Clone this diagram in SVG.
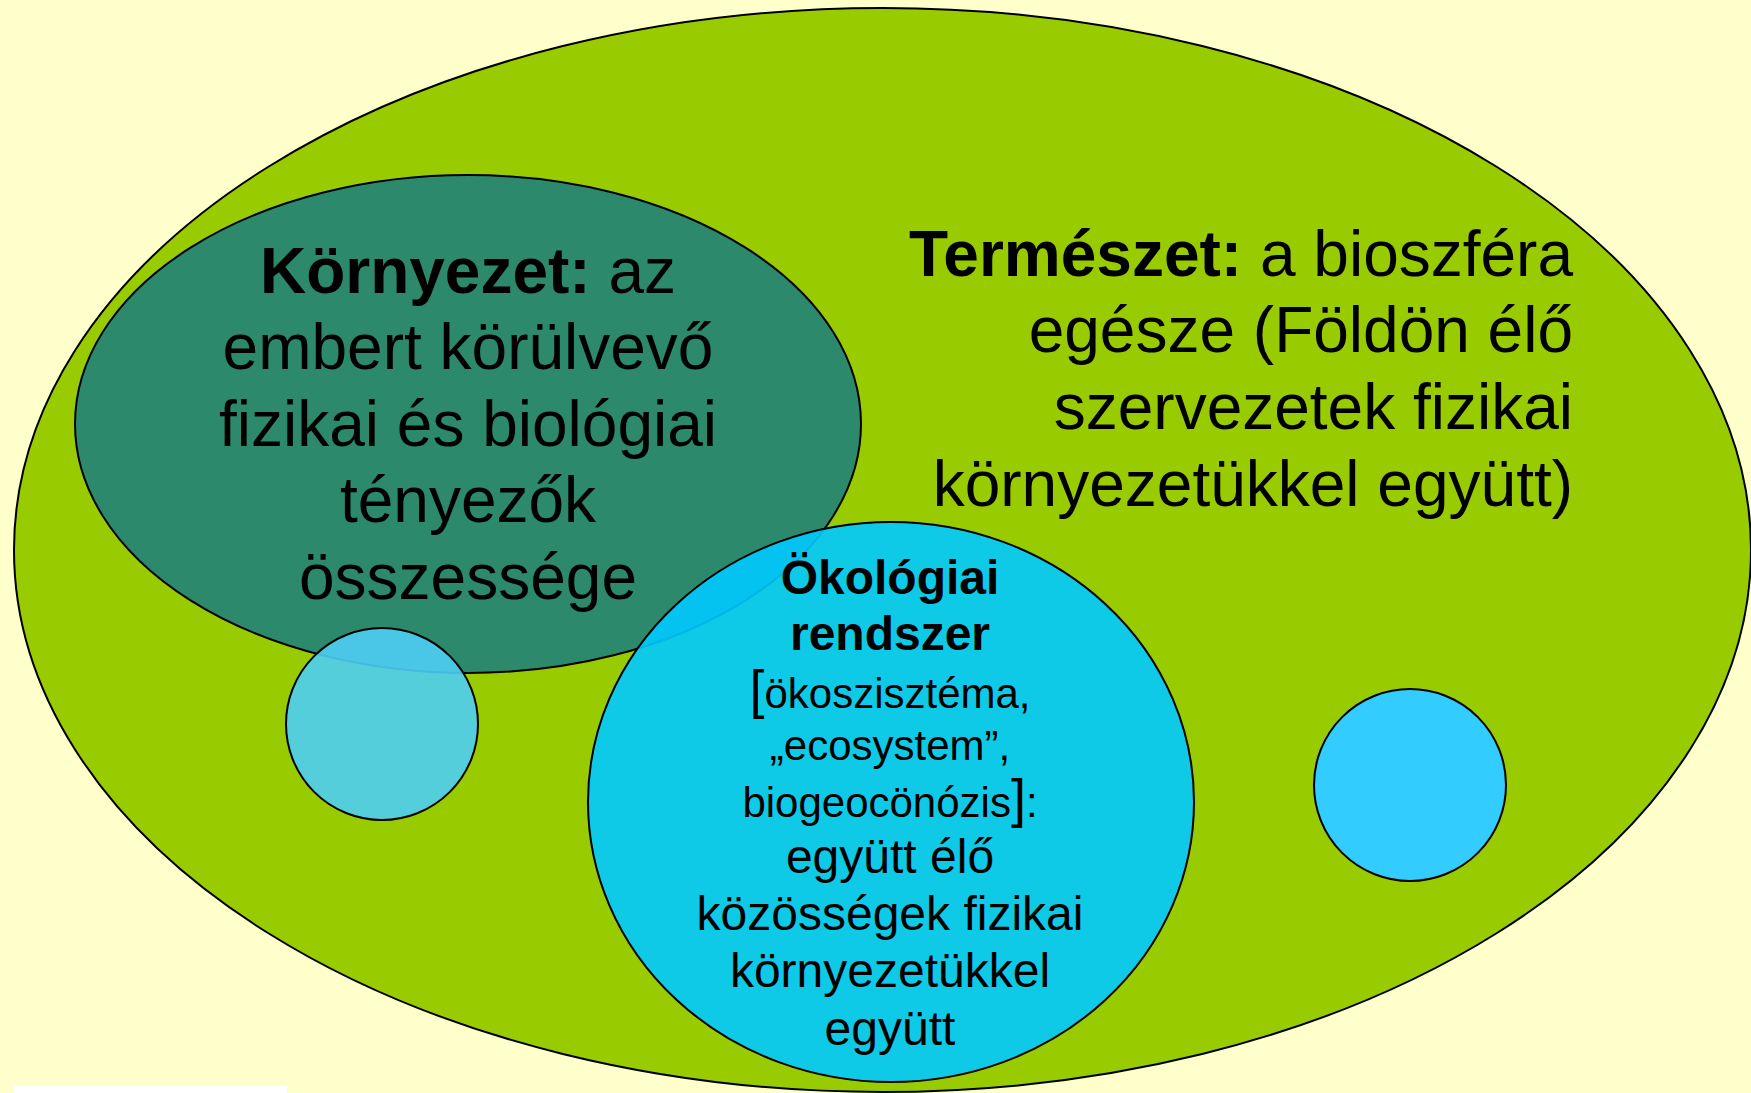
<svg xmlns="http://www.w3.org/2000/svg" width="1751" height="1093" viewBox="0 0 1751 1093">
<style>
.t{font-family:"Liberation Sans",Arial,sans-serif;fill:#000}
.big{font-size:64px}
.eco{font-size:48px}
.sm{font-size:42px}
.br{font-size:54px}
.b{font-weight:bold}
.edge{stroke:#000;stroke-width:2}
</style>
<rect x="0" y="0" width="1751" height="1093" fill="#FFFFCC"/>
<rect x="14" y="1086" width="273" height="7" fill="#FFFFFF"/>
<g id="termeszet">
<ellipse cx="882.5" cy="550" rx="868.5" ry="542" fill="#99CC00" class="edge"/>
</g>
<g id="kornyezet">
<ellipse cx="468" cy="424" rx="393" ry="249" fill="#2D896C" class="edge"/>
</g>
<g id="small-left">
<circle cx="382" cy="724" r="96" fill="#4ECEF4" fill-opacity="0.9" class="edge"/>
</g>
<g id="okologiai">
<ellipse cx="891" cy="802" rx="303" ry="280" fill="#00CAFF" fill-opacity="0.9" class="edge"/>
</g>
<g id="small-right">
<circle cx="1410" cy="785" r="96" fill="#33CCFF" class="edge"/>
</g>
<g id="connectors"/>
<g id="labels">
<text class="t big" text-anchor="middle" x="468"><tspan x="468" y="293"><tspan class="b">Környezet:</tspan> az</tspan><tspan x="468" y="369">embert körülvevő</tspan><tspan x="468" y="446">fizikai és biológiai</tspan><tspan x="468" y="522">tényezők</tspan><tspan x="468" y="599">összessége</tspan></text>
<text class="t big" text-anchor="end"><tspan x="1573" y="276"><tspan class="b">Természet:</tspan> a bioszféra</tspan><tspan x="1573" y="352">egésze (Földön élő</tspan><tspan x="1573" y="429">szervezetek fizikai</tspan><tspan x="1573" y="506">környezetükkel együtt)</tspan></text>
<text class="t eco" text-anchor="middle"><tspan class="b" x="890" y="594">Ökológiai</tspan><tspan class="b" x="890" y="650">rendszer</tspan><tspan class="sm" x="890" y="708"><tspan class="br">[</tspan>ökoszisztéma,</tspan><tspan class="sm" x="890" y="760">„ecosystem”,</tspan><tspan class="sm" x="890" y="817">biogeocönózis<tspan class="br">]</tspan>:</tspan><tspan x="890" y="873">együtt élő</tspan><tspan x="890" y="930">közösségek fizikai</tspan><tspan x="890" y="987">környezetükkel</tspan><tspan x="890" y="1045">együtt</tspan></text>
</g>
</svg>
